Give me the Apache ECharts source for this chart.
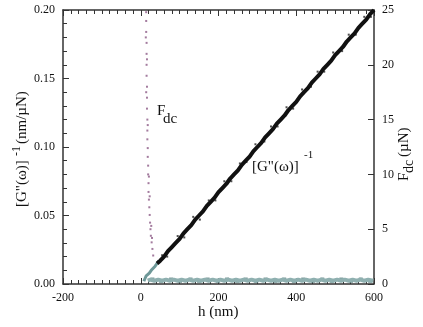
<!DOCTYPE html>
<html>
<head>
<meta charset="utf-8">
<script src="https://cdn.jsdelivr.net/npm/echarts@6/dist/echarts.min.js"></script>
<style>
  html, body { margin: 0; padding: 0; background: #fff; }
  #chart { width: 423px; height: 327px; }
</style>
</head>
<body>
<div id="chart"></div>
<script>
// [G''(w)]^-1 (nm/uN) vs h (nm), black band
const gInvData = [
  [42, 0.015], [50, 0.017], [60, 0.020], [70, 0.024], [80, 0.027], [90, 0.030],
  [100, 0.033], [110, 0.037], [120, 0.040], [130, 0.043], [140, 0.047], [150, 0.050],
  [160, 0.053], [170, 0.057], [180, 0.060], [190, 0.063], [200, 0.067], [210, 0.070],
  [220, 0.073], [230, 0.077], [240, 0.080], [250, 0.083], [260, 0.087], [270, 0.090],
  [280, 0.093], [290, 0.097], [300, 0.100], [310, 0.103], [320, 0.107], [330, 0.110],
  [340, 0.113], [350, 0.117], [360, 0.120], [370, 0.123], [380, 0.127], [390, 0.130],
  [400, 0.133], [410, 0.137], [420, 0.140], [430, 0.143], [440, 0.147], [450, 0.150],
  [460, 0.153], [470, 0.157], [480, 0.160], [490, 0.163], [500, 0.167], [510, 0.170],
  [520, 0.173], [530, 0.177], [540, 0.180], [550, 0.183], [560, 0.187], [570, 0.190],
  [580, 0.193], [590, 0.197], [600, 0.200]
];
// scattered points around the black band
const gInvNoise = [
  [55, 0.021], [68, 0.020], [95, 0.035], [112, 0.034], [135, 0.049], [152, 0.047],
  [175, 0.061], [192, 0.061], [215, 0.075], [233, 0.075], [255, 0.088], [272, 0.089],
  [295, 0.102], [318, 0.104], [335, 0.115], [352, 0.115], [375, 0.129], [392, 0.128],
  [415, 0.142], [438, 0.144], [455, 0.155], [472, 0.155], [495, 0.169], [518, 0.170],
  [535, 0.182], [553, 0.182], [575, 0.195], [592, 0.195]
];
// teal low-h segment of [G''(w)]^-1
const gInvLow = [
  [8, 0.002], [11, 0.004], [14, 0.006], [18, 0.007], [22, 0.008], [27, 0.010],
  [32, 0.011], [37, 0.013], [42, 0.015], [47, 0.017]
];
// F_dc (uN), steep purple part
const fdcSteep = [
  [14, 24.8], [14, 24.0], [14, 23.0], [15, 22.0], [15, 21.0], [15, 20.0], [15, 19.0],
  [16, 18.0], [16, 17.0], [16, 16.0], [17, 15.0], [17, 14.0], [17, 13.2], [18, 12.4],
  [18, 11.6], [19, 10.8], [19, 10.0], [20, 9.2], [20, 8.4], [21, 7.7], [22, 7.0],
  [23, 6.3], [24, 5.6], [25, 5.0], [26, 4.4], [28, 3.8], [30, 3.2], [32, 2.6],
  [13, 22.5], [16, 20.5], [18, 14.5], [21, 9.8], [23, 8.0], [27, 5.3], [29, 4.2], [14, 17.5]
];
// F_dc baseline (uN), teal band along the bottom
const fdcBase = [
  [18, 0.3], [25, 0.4], [35, 0.3], [45, 0.4], [55, 0.3], [65, 0.4], [75, 0.3], [85, 0.4],
  [95, 0.3], [105, 0.4], [115, 0.3], [125, 0.4], [135, 0.3], [145, 0.4], [155, 0.3],
  [165, 0.4], [175, 0.3], [185, 0.4], [195, 0.3], [205, 0.4], [215, 0.3], [225, 0.4],
  [235, 0.3], [245, 0.4], [255, 0.3], [265, 0.4], [275, 0.3], [285, 0.4], [295, 0.3],
  [305, 0.4], [315, 0.3], [325, 0.4], [335, 0.3], [345, 0.4], [355, 0.3], [365, 0.4],
  [375, 0.3], [385, 0.4], [395, 0.3], [405, 0.4], [415, 0.3], [425, 0.4], [435, 0.3],
  [445, 0.4], [455, 0.3], [465, 0.4], [475, 0.3], [485, 0.4], [495, 0.3], [505, 0.4],
  [515, 0.3], [525, 0.4], [535, 0.3], [545, 0.4], [555, 0.3], [565, 0.4], [575, 0.3],
  [585, 0.4], [598, 0.3]
];
// darker specks inside the baseline band
const fdcBaseSpecks = [
  [30, 0.5], [52, 0.2], [78, 0.5], [101, 0.2], [128, 0.5], [150, 0.2], [172, 0.5],
  [199, 0.2], [222, 0.5], [248, 0.2], [270, 0.5], [297, 0.2], [321, 0.5], [346, 0.2],
  [369, 0.5], [394, 0.2], [418, 0.5], [443, 0.2], [467, 0.5], [491, 0.2], [516, 0.5],
  [541, 0.2], [566, 0.5], [590, 0.2]
];
const xTicks = [-200, 0, 200, 400, 600];
const leftTicks = [0, 0.05, 0.10, 0.15, 0.20];
const rightTicks = [0, 5, 10, 15, 20, 25];

const FONT = '"Liberation Serif", "DejaVu Serif", serif';
const AXIS_COLOR = '#333333';
const TEXT = '#111111';

const chart = echarts.init(document.getElementById('chart'), null, { renderer: 'canvas' });

const axisBase = {
  axisLine: { show: true, onZero: false, lineStyle: { color: AXIS_COLOR, width: 1.5 } },
  axisTick: { show: true, inside: true, length: 6, lineStyle: { color: AXIS_COLOR, width: 1 } },
  splitLine: { show: false },
  axisLabel: { color: TEXT, fontFamily: FONT, fontSize: 12 }
};

chart.setOption({
  animation: false,
  backgroundColor: '#ffffff',
  grid: { left: 63, right: 49, top: 10, bottom: 43 },
  xAxis: [
    Object.assign({}, axisBase, {
      type: 'value', position: 'bottom',
      min: xTicks[0], max: xTicks[xTicks.length - 1], interval: 200,
      minorTick: { show: true, splitNumber: 10, length: 4, lineStyle: { color: AXIS_COLOR } },
      axisLabel: { color: TEXT, fontFamily: FONT, fontSize: 12, margin: 8 }
    }),
    Object.assign({}, axisBase, {
      type: 'value', position: 'top',
      min: xTicks[0], max: xTicks[xTicks.length - 1], interval: 200,
      minorTick: { show: true, splitNumber: 10, length: 4, lineStyle: { color: AXIS_COLOR } },
      axisLabel: { show: false }
    })
  ],
  yAxis: [
    Object.assign({}, axisBase, {
      type: 'value', position: 'left',
      min: leftTicks[0], max: leftTicks[leftTicks.length - 1], interval: 0.05,
      minorTick: { show: true, splitNumber: 5, length: 4, lineStyle: { color: AXIS_COLOR } },
      axisLabel: { color: TEXT, fontFamily: FONT, fontSize: 12, margin: 8,
        formatter: (v) => v.toFixed(2) }
    }),
    Object.assign({}, axisBase, {
      type: 'value', position: 'right',
      min: rightTicks[0], max: rightTicks[rightTicks.length - 1], interval: 5,
      axisLabel: { color: TEXT, fontFamily: FONT, fontSize: 12, margin: 8 }
    })
  ],
  series: [
    {
      name: 'Fdc base', type: 'line', xAxisIndex: 0, yAxisIndex: 1,
      data: fdcBase, showSymbol: false,
      lineStyle: { color: '#8fb0b0', width: 4 }
    },
    {
      name: 'Fdc specks', type: 'scatter', xAxisIndex: 0, yAxisIndex: 1,
      data: fdcBaseSpecks, symbol: 'rect', symbolSize: [4, 2],
      itemStyle: { color: '#5d8282' }
    },
    {
      name: 'Fdc', type: 'scatter', xAxisIndex: 0, yAxisIndex: 1,
      data: fdcSteep, symbol: 'rect', symbolSize: 2,
      itemStyle: { color: '#8c5a86' }
    },
    {
      name: 'Ginv low', type: 'line', xAxisIndex: 0, yAxisIndex: 0,
      data: gInvLow, showSymbol: false,
      lineStyle: { color: '#6e9898', width: 3 }
    },
    {
      name: 'Ginv', type: 'line', xAxisIndex: 0, yAxisIndex: 0,
      data: gInvData, showSymbol: false,
      lineStyle: { color: '#111111', width: 4 }
    },
    {
      name: 'Ginv noise', type: 'scatter', xAxisIndex: 0, yAxisIndex: 0,
      data: gInvNoise, symbol: 'rect', symbolSize: 2,
      itemStyle: { color: '#222222' }
    }
  ],
  graphic: [
    // x axis title
    { type: 'text', left: 198, top: 305,
      style: { text: 'h (nm)', font: '15px ' + FONT, fill: TEXT } },
    // left axis title, rotated
    { type: 'group', x: 30, y: 207, rotation: Math.PI / 2,
      children: [
        { type: 'text', x: 0, y: 0,
          style: { text: '[G"(ω)]', font: '15px ' + FONT, fill: TEXT, textVerticalAlign: 'bottom' } },
        { type: 'text', x: 51, y: -7,
          style: { text: '-1', font: '12px ' + FONT, fill: TEXT, textVerticalAlign: 'bottom' } },
        { type: 'text', x: 63, y: 0,
          style: { text: '(nm/µN)', font: '15px ' + FONT, fill: TEXT, textVerticalAlign: 'bottom' } }
      ] },
    // right axis title, rotated
    { type: 'group', x: 416, y: 181, rotation: Math.PI / 2,
      children: [
        { type: 'text', x: 0, y: -4,
          style: { text: 'F', font: '15px ' + FONT, fill: TEXT, textVerticalAlign: 'bottom' } },
        { type: 'text', x: 8, y: 0,
          style: { text: 'dc', font: '14px ' + FONT, fill: TEXT, textVerticalAlign: 'bottom' } },
        { type: 'text', x: 24, y: -4,
          style: { text: '(µN)', font: '15px ' + FONT, fill: TEXT, textVerticalAlign: 'bottom' } }
      ] },
    // in-plot label F_dc
    { type: 'text', left: 157, top: 104,
      style: { text: 'F', font: '15px ' + FONT, fill: TEXT } },
    { type: 'text', left: 163, top: 112,
      style: { text: 'dc', font: '15px ' + FONT, fill: TEXT } },
    // in-plot label [G"(w)]^-1
    { type: 'text', left: 252, top: 160,
      style: { text: '[G"(ω)]', font: '15px ' + FONT, fill: TEXT } },
    { type: 'text', left: 304, top: 150,
      style: { text: '-1', font: '11px ' + FONT, fill: TEXT } }
  ]
});

window.addEventListener('resize', () => chart.resize());
</script>
</body>
</html>
